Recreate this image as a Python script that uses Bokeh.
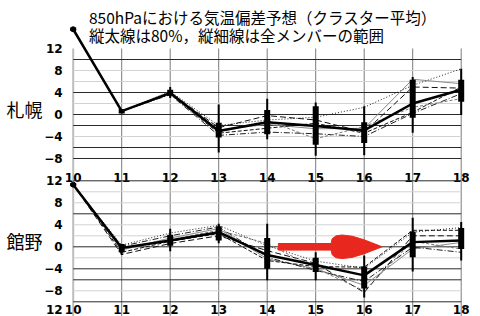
from bokeh.plotting import figure
from bokeh.models import Range1d
from bokeh.core.properties import value
from bokeh.embed import file_html
from bokeh.resources import INLINE

# ---------------- data ----------------
DAYS = [10, 11, 12, 13, 14, 15, 16, 17, 18]
X_TICK_LABELS = ["10", "11", "12", "13", "14", "15", "16", "17", "18"]
Y_TICKS = [12, 8, 4, 0, -4, -8]
Y_TICK_LABELS = ["12", "8", "4", "0", "−4", "−8"]
Y_MIN, Y_MAX = -10, 12
NEXT_PANEL_LABEL = "12"

TITLE_LINES = ["850hPaにおける気温偏差予想（クラスター平均）",
               "縦太線は80%，縦細線は全メンバーの範囲"]
STATIONS = ["札幌", "館野"]

# grid lines as they appear (dark / light)
GRID_DARK_SAP = [10, 4, 0, -2, -6, -8]
GRID_LIGHT_SAP = [8, 6, 2, -4]
GRID_DARK_TAT = [12, 6, 0, -4, -6, -10]
GRID_LIGHT_TAT = [10, 8, 4, 2, -2, -8]

# Sapporo
SAP_MEAN = [15.5, 0.6, 3.9, -3.0, -1.4, -2.1, -2.9, 2.0, 4.5]
SAP_M1 = [15.5, 0.6, 4.2, -2.0, -1.0, -0.5, 1.3, 5.3, 8.3]
SAP_M2 = [15.5, 0.6, 4.0, -2.4, -0.2, -1.0, -3.2, 5.0, 4.8]
SAP_M3 = [15.5, 0.6, 4.1, -2.8, -1.8, -2.6, -2.5, 6.4, 5.6]
SAP_M4 = [15.5, 0.6, 3.7, -3.4, -2.5, -1.6, -3.4, 0.4, 5.0]
SAP_M5 = [15.5, 0.6, 3.6, -3.8, -3.2, -3.5, -4.0, 0.2, 3.8]
SAP_M6 = [15.5, 0.6, 3.8, -3.2, -1.1, -4.4, -2.2, 1.3, 2.9]
SAP_P80_LO = [15.2, 0.2, 3.4, -4.2, -3.6, -5.5, -5.2, -0.6, 2.3]
SAP_P80_HI = [15.8, 1.0, 4.5, -1.5, 0.8, 1.5, -1.4, 6.3, 6.3]
SAP_ALL_LO = [15.2, 0.2, 3.0, -6.9, -4.5, -7.5, -7.4, -3.3, -0.1]
SAP_ALL_HI = [15.8, 1.0, 5.0, 1.8, 2.85, 2.2, 1.5, 6.8, 8.3]

# Tateno
TAT_MEAN = [11.3, -0.2, 1.15, 2.65, -1.5, -3.3, -5.2, 0.85, 1.15]
TAT_M1 = [11.3, 0.3, 2.5, 3.9, 0.2, -2.6, -3.9, 2.65, 3.5]
TAT_M2 = [11.3, -1.4, 0.6, 2.0, -0.7, -3.0, -8.3, 2.0, 2.0]
TAT_M3 = [11.3, -0.6, 1.6, 3.3, -2.2, -4.0, -7.0, -0.4, 0.8]
TAT_M4 = [11.3, -1.0, 1.0, 2.4, -2.5, -3.6, -3.7, 3.0, 3.0]
TAT_M5 = [11.3, 0.1, 2.0, 3.6, -1.9, -4.3, -6.3, -0.05, -1.0]
TAT_M6 = [11.3, -0.3, 1.3, 3.0, 0.6, -3.9, -8.0, 1.0, -0.4]
TAT_P80_LO = [11.0, -1.0, 0.2, 1.15, -4.0, -4.6, -7.6, -1.9, -0.4]
TAT_P80_HI = [11.6, 0.5, 2.2, 3.75, 1.6, -2.0, -3.6, 2.8, 3.4]
TAT_ALL_LO = [11.0, -1.5, -0.8, 0.65, -6.1, -6.1, -9.2, -4.5, -2.5]
TAT_ALL_HI = [11.6, 0.5, 3.3, 4.2, 4.2, -1.0, -1.6, 5.3, 4.5]

# red arrow (Tateno panel, data units)
ARROW_TAIL_X, ARROW_TIP_X, ARROW_Y = 14.23, 16.37, 0.0

# ---------------- layout constants ----------------
W, H = 480, 316
PX_DAY = 48.5
PX_UNIT = 5.5
LEFT_PX = 72.7
ZERO_SAP_PX = 114.0
ZERO_TAT_PX = 246.3

x_range = Range1d(DAYS[0] - LEFT_PX / PX_DAY, DAYS[0] + (W - LEFT_PX) / PX_DAY)
y_sap = Range1d(-(H - ZERO_SAP_PX) / PX_UNIT, ZERO_SAP_PX / PX_UNIT)
y_tat = Range1d(-(H - ZERO_TAT_PX) / PX_UNIT, ZERO_TAT_PX / PX_UNIT)

p = figure(width=W, height=H, x_range=x_range, y_range=y_sap,
           output_backend="svg", toolbar_location=None,
           x_axis_location=None, y_axis_location=None,
           min_border=0, outline_line_color=None, background_fill_color="white")
p.grid.visible = False
p.extra_y_ranges = {"tat": y_tat}

NUM_FONT = value("DejaVu Sans")
JP_FONT = value("Noto Sans CJK JP")

# vertical grid lines, continuous from the top panel down
canvas_bottom = y_sap.start
p.segment(x0=DAYS[1:], x1=DAYS[1:], y0=[Y_MAX] * (len(DAYS) - 1),
          y1=[canvas_bottom] * (len(DAYS) - 1), line_color="#7a7a7a", line_width=1)
p.segment(x0=[DAYS[0]], x1=[DAYS[0]], y0=[Y_MAX], y1=[canvas_bottom],
          line_color="#bdbdbd", line_width=2)

panels = [
    (None, STATIONS[0], GRID_DARK_SAP, GRID_LIGHT_SAP, SAP_MEAN,
     [SAP_M1, SAP_M2, SAP_M3, SAP_M4, SAP_M5, SAP_M6],
     SAP_P80_LO, SAP_P80_HI, SAP_ALL_LO, SAP_ALL_HI),
    ("tat", STATIONS[1], GRID_DARK_TAT, GRID_LIGHT_TAT, TAT_MEAN,
     [TAT_M1, TAT_M2, TAT_M3, TAT_M4, TAT_M5, TAT_M6],
     TAT_P80_LO, TAT_P80_HI, TAT_ALL_LO, TAT_ALL_HI),
]

member_styles = [
    dict(line_color="#222222", line_dash="1 2", line_width=1),
    dict(line_color="#111111", line_dash="6 3", line_width=1),
    dict(line_color="#8a8a8a", line_dash="solid", line_width=1),
    dict(line_color="#111111", line_dash="4 2", line_width=1),
    dict(line_color="#222222", line_dash="6 2 1 2", line_width=1),
    dict(line_color="#777777", line_dash="3 2", line_width=1),
]

x0, x1 = DAYS[0], DAYS[-1]
label_x = DAYS[0] - 10.5 / PX_DAY
station_x = DAYS[0] - (LEFT_PX - 6) / PX_DAY

for rname, station, gdark, glight, mean, members, p80lo, p80hi, alllo, allhi in panels:
    kw = {} if rname is None else {"y_range_name": rname}
    p.segment(x0=[x0] * len(glight), x1=[x1] * len(glight), y0=glight, y1=glight,
              line_color="#d2d2d2", line_width=1, **kw)
    p.segment(x0=[x0] * len(gdark), x1=[x1] * len(gdark), y0=gdark, y1=gdark,
              line_color="#2a2a2a", line_width=1, **kw)
    for m, st in zip(members, member_styles):
        p.line(DAYS, m, **st, **kw)
    p.segment(x0=DAYS, x1=DAYS, y0=alllo, y1=allhi, line_color="black", line_width=2, **kw)
    p.segment(x0=DAYS, x1=DAYS, y0=p80lo, y1=p80hi, line_color="black", line_width=6, **kw)
    p.line(DAYS, mean, line_color="black", line_width=2.5, **kw)
    p.scatter([DAYS[0]], [mean[0]], size=5, marker="circle", color="black", **kw)
    # y tick labels
    p.text(x=[label_x] * len(Y_TICKS), y=Y_TICKS, text=Y_TICK_LABELS,
           text_font=NUM_FONT, text_font_style="bold", text_font_size="12px",
           text_align="right", text_baseline="middle", text_color="black", **kw)
    # x tick labels under the panel
    p.text(x=DAYS, y=[Y_MIN - 1.4] * len(DAYS), text=X_TICK_LABELS,
           text_font=NUM_FONT, text_font_style="bold", text_font_size="12px",
           text_align="center", text_baseline="middle", text_color="black", **kw)
    # station name
    p.text(x=[station_x], y=[1.0], text=[station], text_font=JP_FONT,
           text_font_size="18px", text_align="left", text_baseline="middle",
           text_color="black", **kw)

# label of the next (cut-off) panel, kept inside the picture
p.text(x=[label_x], y=[Y_MIN - 1.4], text=[NEXT_PANEL_LABEL],
       text_font=NUM_FONT, text_font_style="bold", text_font_size="12px",
       text_align="right", text_baseline="middle", y_range_name="tat")

# title
title_x = DAYS[0] + (88.5 - LEFT_PX) / PX_DAY
p.text(x=[title_x, title_x],
       y=[(ZERO_SAP_PX - 16.5) / PX_UNIT, (ZERO_SAP_PX - 34.5) / PX_UNIT],
       text=TITLE_LINES, text_font=JP_FONT, text_font_size="15.5px",
       text_align="left", text_baseline="middle", text_color="black")

# red arrow: shaft + rounded head (shape given in pixels relative to the tip)
half_shaft = 3.3
head_top = [(-51, -half_shaft), (-50, -8), (-46, -11), (-40, -11.8), (-30, -10.6),
            (-18, -7), (0, 0)]
head_bot = [(dx, -dy) for dx, dy in reversed(head_top[:-1])]
tail_dx = -(ARROW_TIP_X - ARROW_TAIL_X) * PX_DAY
shape = ([(tail_dx, -half_shaft)] + head_top + head_bot + [(tail_dx, half_shaft)])
ax = [ARROW_TIP_X + dx / PX_DAY for dx, dy in shape]
ay = [ARROW_Y - dy / PX_UNIT for dx, dy in shape]
p.patch(ax, ay, fill_color="#e8281e", line_color="#e8281e", line_width=1,
        y_range_name="tat")

open("out.html", "w").write(file_html(p, INLINE))
